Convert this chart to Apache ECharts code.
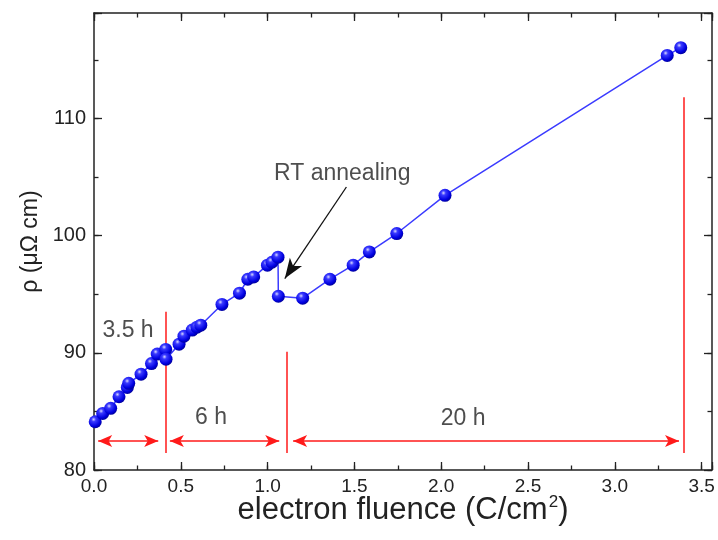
<!DOCTYPE html>
<html><head><meta charset="utf-8">
<script src="https://cdn.jsdelivr.net/npm/echarts@6/dist/echarts.min.js"></script>
<style>html,body{margin:0;padding:0;background:#fff}#c{width:718px;height:540px}</style>
</head><body><div id="c"></div>
<script>
// ---- data ----
const fluence = [0.007,0.050,0.096,0.144,0.192,0.200,0.271,0.331,0.364,0.413,0.415,0.490,0.518,0.566,0.593,0.615,0.737,0.838,0.886,0.920,0.999,1.025,1.060,1.062,1.202,1.359,1.493,1.586,1.744,2.022,3.302,3.380];
const resistivity = [84.12,84.83,85.26,86.25,87.05,87.40,88.18,89.08,89.89,90.29,89.46,90.74,91.42,91.94,92.19,92.36,94.13,95.09,96.28,96.48,97.48,97.73,98.16,94.83,94.66,96.28,97.48,98.61,100.18,103.44,115.38,116.04];

const xTickLabels = ['0.0','0.5','1.0','1.5','2.0','2.5','3.0','3.5'];
const yTickLabels = ['80','90','100','110'];

// annealing-interval markers (red)
const boundaryX = [0.415, 1.11, 3.40];
const boundaryTop = [93.5, 90.1, 111.8];
const boundaryBottom = 81.45;
const spanStart = [0.024, 0.437, 1.147];
const spanEnd = [0.370, 1.067, 3.370];
const spanY = 82.47;

// text annotations
const noteText = ['3.5 h', '6 h', '20 h', 'RT annealing'];
const noteX = [0.196, 0.674, 2.126, 1.43];
const noteY = [91.85, 84.43, 84.40, 105.3];

// black pointer arrow
const pointerFrom = [1.454, 104.15];
const pointerTo = [1.099, 96.34];

// ---- chart ----
const FONT = '"Liberation Sans", Arial, Helvetica, sans-serif';
const AX = '#222';
const xMin = 0, xMax = 3.56, yMin = 80, yMax = 119;
const gridPos = {left: 94, right: 6, top: 13, bottom: 70};

const fmtX = v => { const i = xTickLabels.indexOf(Number(v).toFixed(1)); return (Math.abs(v*2 - Math.round(v*2)) < 1e-6 && i >= 0) ? xTickLabels[i] : ''; };
const fmtY = v => (Math.abs(v/10 - Math.round(v/10)) < 1e-6 && yTickLabels.indexOf(String(Math.round(v))) >= 0) ? String(Math.round(v)) : '';

const baseAxisLine = {show: true, onZero: false, lineStyle: {color: AX, width: 1.5}};
const noAxisLine = {show: false, onZero: false};
const majTick = {show: true, inside: true, length: 8, lineStyle: {color: AX, width: 1.3}};
const minTick = {show: true, inside: true, length: 4.5, lineStyle: {color: AX, width: 1.3}};

const xAxes = [
  {gridIndex: 0, type: 'value', min: xMin, max: xMax, interval: 0.5, position: 'bottom',
   axisLine: baseAxisLine, axisTick: majTick, splitLine: {show: false},
   axisLabel: {formatter: fmtX, fontSize: 19, color: AX, fontFamily: FONT, margin: 7},
   name: '{a|electron fluence (C/cm}{s|2}{a|)}', nameLocation: 'middle', nameGap: 24, nameMoveOverlap: false,
   nameTextStyle: {rich: {a: {fontSize: 31, color: AX, fontFamily: FONT}, s: {fontSize: 17, color: AX, fontFamily: FONT, verticalAlign: 'top', padding: [0,0,16,1]}}}},
  {gridIndex: 0, type: 'value', min: xMin, max: xMax, interval: 0.5, position: 'top',
   axisLine: baseAxisLine, axisTick: majTick, splitLine: {show: false}, axisLabel: {show: false}},
  {gridIndex: 1, type: 'value', min: xMin, max: xMax, interval: 0.25, position: 'bottom',
   axisLine: noAxisLine, axisTick: minTick, splitLine: {show: false}, axisLabel: {show: false}},
  {gridIndex: 1, type: 'value', min: xMin, max: xMax, interval: 0.25, position: 'top',
   axisLine: noAxisLine, axisTick: minTick, splitLine: {show: false}, axisLabel: {show: false}}
];
const yAxes = [
  {gridIndex: 0, type: 'value', min: yMin, max: yMax, interval: 10, position: 'left',
   axisLine: baseAxisLine, axisTick: majTick, splitLine: {show: false},
   axisLabel: {formatter: fmtY, fontSize: 20, color: AX, fontFamily: FONT, margin: 8},
   name: 'ρ (μΩ cm)', nameLocation: 'middle', nameGap: 52, nameMoveOverlap: false,
   nameTextStyle: {fontSize: 23, color: AX, fontFamily: FONT}},
  {gridIndex: 0, type: 'value', min: yMin, max: yMax, interval: 10, position: 'right',
   axisLine: baseAxisLine, axisTick: majTick, splitLine: {show: false}, axisLabel: {show: false}},
  {gridIndex: 1, type: 'value', min: yMin, max: yMax, interval: 5, position: 'left',
   axisLine: noAxisLine, axisTick: minTick, splitLine: {show: false}, axisLabel: {show: false}},
  {gridIndex: 1, type: 'value', min: yMin, max: yMax, interval: 5, position: 'right',
   axisLine: noAxisLine, axisTick: minTick, splitLine: {show: false}, axisLabel: {show: false}}
];

const sphere = {
  type: 'radial', x: 0.38, y: 0.32, r: 0.7,
  colorStops: [
    {offset: 0, color: '#d8d8ff'},
    {offset: 0.25, color: '#3a3aff'},
    {offset: 0.75, color: '#0000e0'},
    {offset: 1, color: '#00009a'}
  ]
};

const redBoundaries = boundaryX.map((x, i) => [{coord: [x, boundaryBottom]}, {coord: [x, boundaryTop[i]]}]);
const redSpans = spanStart.map((s, i) => [{coord: [s, spanY]}, {coord: [spanEnd[i], spanY]}]);

const option = {
  animation: false,
  backgroundColor: '#fff',
  grid: [Object.assign({}, gridPos), Object.assign({}, gridPos)],
  xAxis: xAxes,
  yAxis: yAxes,
  series: [
    {
      type: 'scatter', xAxisIndex: 0, yAxisIndex: 0, data: [], silent: true,
      markLine: {silent: true, symbol: ['none', 'none'], label: {show: false},
        lineStyle: {color: '#ff1a1a', width: 1.5, type: 'solid'}, data: redBoundaries}
    },
    {
      type: 'scatter', xAxisIndex: 0, yAxisIndex: 0, data: [], silent: true,
      markLine: {silent: true, symbol: ['arrow', 'arrow'], symbolSize: [9, 14], label: {show: false},
        lineStyle: {color: '#ff1a1a', width: 1.5, type: 'solid'}, itemStyle: {color: '#ff1a1a'}, data: redSpans}
    },
    {
      type: 'scatter', xAxisIndex: 0, yAxisIndex: 0, data: [], silent: true,
      markLine: {silent: true, symbol: ['none', 'arrow'], symbolSize: [11, 20], label: {show: false},
        lineStyle: {color: '#111', width: 1.3, type: 'solid'}, itemStyle: {color: '#111'},
        data: [[{coord: pointerFrom}, {coord: pointerTo}]]}
    },
    {
      type: 'line', xAxisIndex: 0, yAxisIndex: 0,
      data: fluence.map((x, i) => [x, resistivity[i]]),
      symbol: 'circle', symbolSize: 13, showAllSymbol: true,
      lineStyle: {color: '#3b3bff', width: 1.5},
      itemStyle: {color: sphere},
      z: 5
    },
    {
      type: 'scatter', xAxisIndex: 0, yAxisIndex: 0, silent: true,
      symbolSize: 0,
      data: noteText.map((t, i) => ({name: t, value: [noteX[i], noteY[i]]})),
      label: {show: true, position: 'inside', formatter: p => p.name, fontSize: 23, color: AX, fontFamily: FONT},
      z: 6
    }
  ]
};

const chart = echarts.init(document.getElementById('c'), null, {renderer: 'canvas'});
chart.setOption(option);
</script>
</body></html>
